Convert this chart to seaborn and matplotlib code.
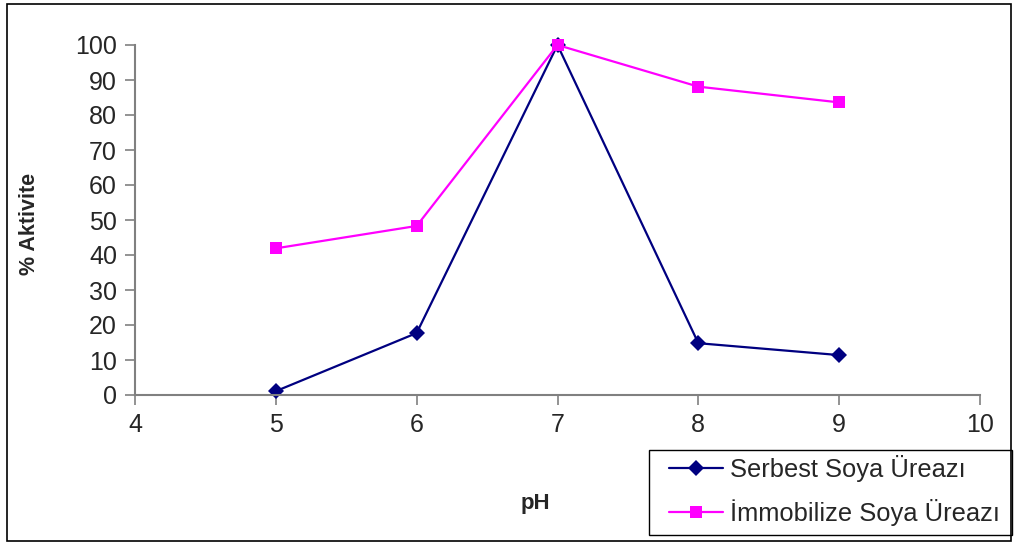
import matplotlib
matplotlib.use("Agg")
import matplotlib.pyplot as plt
import seaborn as sns
import pandas as pd
from matplotlib.patches import Rectangle

ph = [5, 6, 7, 8, 9]
serbest = [1.1, 17.7, 100, 14.8, 11.4]
immob = [41.9, 48.3, 100, 88.1, 83.6]
series_names = ["Serbest Soya Üreazı", "İmmobilize Soya Üreazı"]
x_ticks = [4, 5, 6, 7, 8, 9, 10]
y_ticks = [0, 10, 20, 30, 40, 50, 60, 70, 80, 90, 100]

df = pd.DataFrame({
    "pH": ph * 2,
    "val": serbest + immob,
    "seri": [series_names[0]] * len(ph) + [series_names[1]] * len(ph),
})

sns.set_style("white")
plt.rcParams["font.family"] = ["Liberation Sans", "DejaVu Sans"]

fig = plt.figure(figsize=(10.14, 5.45), dpi=100)
ax = fig.add_axes([135/1014, 1-395/545, (980-135)/1014, 350/545])

palette = {series_names[0]: "#000080", series_names[1]: "#FF00FF"}
markers = {series_names[0]: "D", series_names[1]: "s"}
sns.lineplot(data=df, x="pH", y="val", hue="seri", style="seri",
             palette=palette, markers=markers, dashes=False,
             linewidth=1.6, markersize=8.5, markeredgewidth=0,
             ax=ax, legend=False)
for ln in ax.lines:
    ln.set_clip_on(False)

ax.set_xlim(4, 10)
ax.set_ylim(0, 100)
ax.set_xticks(x_ticks)
ax.set_yticks(y_ticks)
ax.tick_params(axis="both", labelsize=18, direction="out", length=7,
               width=1.2, color="#808080", left=True, bottom=True, pad=6)
for s in ["top", "right"]:
    ax.spines[s].set_visible(False)
for s in ["left", "bottom"]:
    ax.spines[s].set_color("#808080")
    ax.spines[s].set_linewidth(1.5)
ax.grid(False)

ax.set_ylabel("% Aktivite", fontsize=15.5, fontweight="bold")
ax.yaxis.set_label_coords(-(135-40)/845, 0.49)
ax.set_xlabel("pH", fontsize=16, fontweight="bold")
ax.xaxis.set_label_coords((535-135)/845, -(493-395)/350)

handles = [
    plt.Line2D([], [], color="#000080", marker="D", markersize=8.5, lw=1.6, markeredgewidth=0),
    plt.Line2D([], [], color="#FF00FF", marker="s", markersize=8.5, lw=1.6, markeredgewidth=0),
]
leg = fig.legend(handles, series_names, loc="upper left",
                 bbox_to_anchor=(669/1014, 1-455/545), fontsize=18.4,
                 frameon=False, handlelength=2.1, borderpad=0,
                 labelspacing=0.68, handletextpad=0.3, borderaxespad=0)

fig.patches.append(Rectangle((649/1014, 1-535/545), (1012-649)/1014, 85/545,
                             transform=fig.transFigure, fill=False,
                             edgecolor="black", linewidth=1.0))
fig.patches.append(Rectangle((7/1014, 4/545), 1004/1014, 537/545,
                             transform=fig.transFigure, fill=False,
                             edgecolor="black", linewidth=1.2))

fig.savefig("out.png", dpi=100)
